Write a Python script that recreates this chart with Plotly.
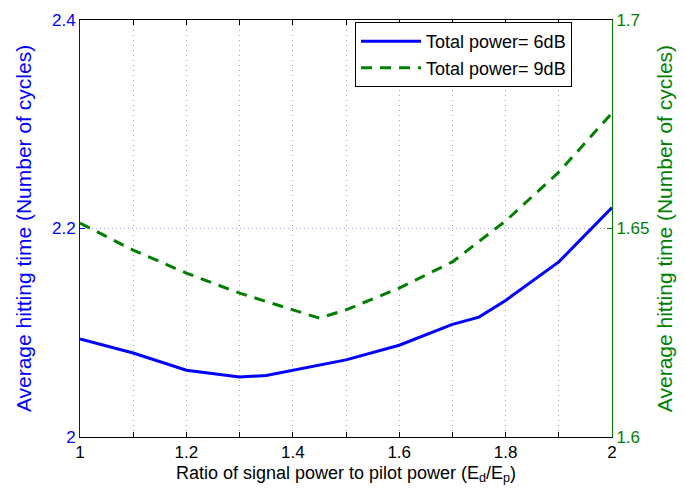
import plotly.graph_objects as go

x_blue = [1.0, 1.1, 1.2, 1.3, 1.35, 1.4, 1.5, 1.6, 1.7, 1.75, 1.8, 1.9, 2.0]
y_blue = [2.094, 2.0806, 2.064, 2.0576, 2.059, 2.064, 2.074, 2.088, 2.108, 2.115, 2.131, 2.168, 2.22]

x_green = [1.0, 1.1, 1.2, 1.3, 1.4, 1.45, 1.5, 1.6, 1.7, 1.8, 1.9, 2.0]
y_green = [1.6513, 1.6448, 1.6393, 1.6345, 1.6305, 1.6285, 1.6305, 1.6357, 1.642, 1.6518, 1.6635, 1.6777]

x_ticks = [1.0, 1.1, 1.2, 1.3, 1.4, 1.5, 1.6, 1.7, 1.8, 1.9, 2.0]
x_ticklabels = ["1", "", "1.2", "", "1.4", "", "1.6", "", "1.8", "", "2"]
y1_ticks = [2.0, 2.2, 2.4]
y1_labels = ["2", "2.2", "2.4"]
y2_ticks = [1.6, 1.65, 1.7]
y2_labels = ["1.6", "1.65", "1.7"]

BLUE = "#0000ff"
GREEN = "#007f00"
FONT = "Liberation Sans, Arial, sans-serif"

fig = go.Figure()
fig.add_trace(go.Scatter(x=x_blue, y=y_blue, mode="lines", name="Total power= 6dB",
                         line=dict(color=BLUE, width=3)))
fig.add_trace(go.Scatter(x=x_green, y=y_green, mode="lines", name="Total power= 9dB",
                         line=dict(color=GREEN, width=3, dash="11px,8px"), yaxis="y2"))

fig.update_layout(
    width=685, height=492,
    margin=dict(l=80, r=73, t=20, b=55),
    paper_bgcolor="white", plot_bgcolor="white",
    font=dict(family=FONT, size=17, color="black"),
    showlegend=True,
    legend=dict(x=0.517, y=0.995, xanchor="left", yanchor="top",
                bgcolor="white", bordercolor="black", borderwidth=1,
                font=dict(size=18, family=FONT), tracegroupgap=0,
                itemwidth=60),
    xaxis=dict(range=[1, 2], tickvals=x_ticks, ticktext=x_ticklabels,
               ticks="inside", ticklen=5, tickcolor="black",
               showline=True, linecolor="black", linewidth=1, mirror="ticks",
               showgrid=True, gridcolor="#a8a8a8", griddash="1px,4px", gridwidth=1,
               zeroline=False,
               title=dict(text="Ratio of signal power to pilot power (E<sub>d</sub>/E<sub>p</sub>)",
                          font=dict(size=18), standoff=4),
               tickfont=dict(size=17)),
    yaxis=dict(range=[2, 2.4], tickvals=y1_ticks, ticktext=y1_labels,
               ticks="inside", ticklen=5, tickcolor=BLUE,
               showline=True, linecolor=BLUE, linewidth=1,
               showgrid=True, gridcolor="#a0a0f0", griddash="1px,3px", gridwidth=1,
               zeroline=False, color=BLUE,
               title=dict(text="Average hitting time (Number of cycles)",
                          font=dict(size=21, color=BLUE), standoff=14),
               tickfont=dict(size=17, color=BLUE)),
    yaxis2=dict(range=[1.6, 1.7], tickvals=y2_ticks, ticktext=y2_labels,
                overlaying="y", side="right",
                ticks="inside", ticklen=5, tickcolor=GREEN,
                showline=True, linecolor=GREEN, linewidth=1,
                showgrid=False, zeroline=False,
                title=dict(text="Average hitting time (Number of cycles)",
                           font=dict(size=21, color=GREEN), standoff=8),
                tickfont=dict(size=17, color=GREEN)),
)

fig.write_html("out.html")
